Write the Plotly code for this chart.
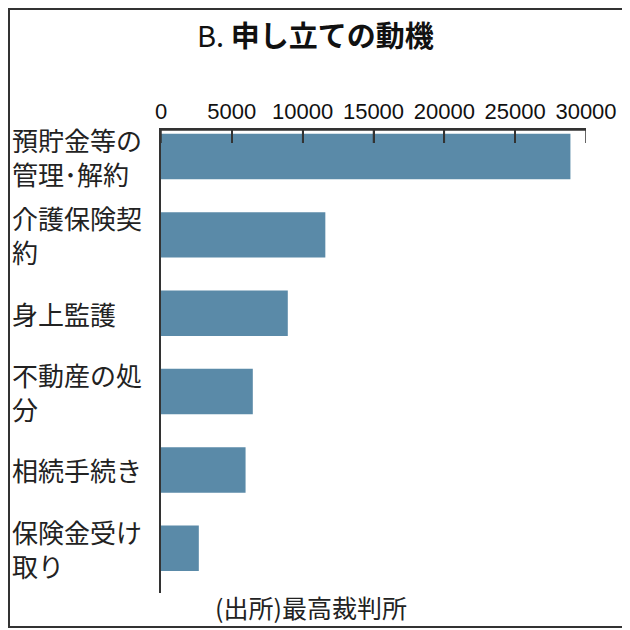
import plotly.graph_objects as go

categories = ["預貯金等の管理・解約", "介護保険契約", "身上監護", "不動産の処分", "相続手続き", "保険金受け取り"]
label_lines = ["預貯金等の<br>管理･解約", "介護保険契<br>約", "身上監護", "不動産の処<br>分", "相続手続き", "保険金受け<br>取り"]
values = [28900, 11600, 8950, 6480, 5970, 2670]
tick_vals = [0, 5000, 10000, 15000, 20000, 25000, 30000]
tick_text = ["0", "5000", "10000", "15000", "20000", "25000", "30000"]
title_text = "B. <b>申し立ての動機</b>"
source_text = "(出所)最高裁判所"

JP = "Noto Sans CJK JP"
NUM = "Liberation Sans, Arial, sans-serif"

OFF = 8  # page offset of the figure (body margin)
W, H = 630 - OFF, 630 - OFF
# target page coordinates
L_PX, R_PX, T_PX, B_PX = 161, 586, 130, 593
ml = L_PX - OFF
mr = 630 - R_PX
mt = T_PX - OFF
mb = 630 - B_PX
pw = W - ml - mr
ph = H - mt - mb

def px(x):
    return (x - L_PX) / pw

def py(y):
    return (B_PX - y) / ph

fig = go.Figure()
fig.add_trace(go.Bar(
    x=values, y=categories, orientation="h",
    marker=dict(color="#5a8aa8", line=dict(width=0)),
    width=0.58,
    hoverinfo="skip",
))

annotations = []
for cat, lab in zip(categories, label_lines):
    annotations.append(dict(
        x=px(10), xref="paper", y=cat, yref="y",
        text=lab, showarrow=False, xanchor="left", yanchor="middle",
        align="left", font=dict(family=JP, size=26, color="#222"),
    ))
annotations.append(dict(
    x=px(213), xref="paper", y=py(607), yref="paper",
    text=source_text, showarrow=False, xanchor="left", yanchor="middle",
    font=dict(family=JP, size=25, color="#222"),
))
annotations.append(dict(
    x=px(315), xref="paper", y=py(34), yref="paper",
    text=title_text, showarrow=False, xanchor="center", yanchor="middle",
    font=dict(family=JP, size=29, color="#111"),
))

shapes = [dict(
    type="rect", xref="paper", yref="paper",
    x0=px(OFF + 1), x1=px(628), y0=py(627), y1=py(OFF + 1),
    line=dict(color="#333", width=2), fillcolor="rgba(0,0,0,0)",
)]
# top axis line and inward ticks, placed on the x scale
shapes.append(dict(
    type="line", xref="x", yref="paper",
    x0=tick_vals[0], x1=tick_vals[-1], y0=1, y1=1,
    line=dict(color="#333", width=1.5),
))
for v in tick_vals:
    shapes.append(dict(
        type="line", xref="x", yref="paper",
        x0=v, x1=v, y0=1, y1=1 - 13 / ph,
        line=dict(color="#333", width=1.5),
    ))

fig.update_layout(
    width=W, height=H,
    margin=dict(l=ml, r=mr, t=mt, b=mb, pad=0),
    paper_bgcolor="white", plot_bgcolor="white",
    showlegend=False,
    annotations=annotations,
    shapes=shapes,
    xaxis=dict(
        side="top",
        range=[0, 30000], tickvals=tick_vals, ticktext=tick_text,
        ticks="inside", ticklen=13, tickwidth=1.5, tickcolor="#333",
        showline=True, linecolor="#333", linewidth=1.5,
        showgrid=False, zeroline=False,
        tickfont=dict(family=NUM, size=22, color="#111"),
        fixedrange=True,
    ),
    yaxis=dict(
        categoryorder="array", categoryarray=categories,
        autorange=False, range=[5.57, -0.338],
        showticklabels=False, ticks="", showgrid=False, zeroline=False,
        showline=True, linecolor="#333", linewidth=1.5,
        fixedrange=True,
    ),
    bargap=0.42,
)

fig.write_html("out.html")
